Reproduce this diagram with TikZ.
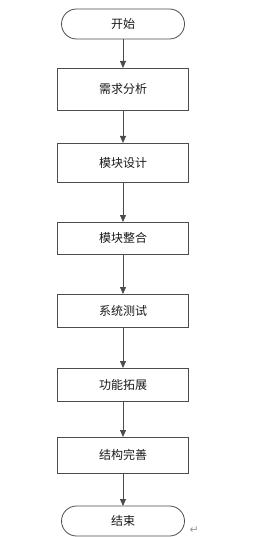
\documentclass[tikz,border=0pt]{standalone}
\usepackage{fontspec}
\setmainfont{Noto Sans CJK SC}
\newfontfamily\symfont{DejaVu Sans}
\usetikzlibrary{positioning, arrows.meta}

\begin{document}
\begin{tikzpicture}[
    x=1pt, y=1pt,
    >={Triangle[length=7pt, width=6pt]},
    terminal/.style={draw=black!70, line width=0.8pt, rounded corners=15pt, minimum width=123pt, minimum height=30pt, inner sep=0pt, outer sep=0pt, text=black!90, font=\fontsize{12}{14}\selectfont},
    process/.style={draw=black!70, line width=0.8pt, minimum width=131pt, inner sep=0pt, outer sep=0pt, text=black!90, font=\fontsize{12}{14}\selectfont},
    flow/.style={->, draw=black!70, line width=0.8pt},
    parasign/.style={text=black!40, inner sep=0pt, font=\symfont\fontsize{11}{11}\selectfont}
]
\useasboundingbox (0,0) rectangle (270,-537);

% Flow chart nodes
\node[terminal] (start) at (123,-24) {开始};
\node[process, minimum height=42pt, below=29pt of start] (req) {需求分析};
\node[process, minimum height=39pt, below=33pt of req] (design) {模块设计};
\node[process, minimum height=32pt, below=40pt of design] (integ) {模块整合};
\node[process, minimum height=33pt, below=40pt of integ] (test) {系统测试};
\node[process, minimum height=33pt, below=41pt of test] (extend) {功能拓展};
\node[process, minimum height=36pt, below=36pt of extend] (perfect) {结构完善};
\node[terminal, below=33pt of perfect] (stop) {结束};

% Paragraph mark
\node[parasign, anchor=base west] (ret) at ([xshift=5pt, yshift=3pt]stop.south east) {↵};

% Connectors
\draw[flow] (start) -- (req);
\draw[flow] (req) -- (design);
\draw[flow] (design) -- (integ);
\draw[flow] (integ) -- (test);
\draw[flow] (test) -- (extend);
\draw[flow] (extend) -- (perfect);
\draw[flow] (perfect) -- (stop);

\end{tikzpicture}
\end{document}
